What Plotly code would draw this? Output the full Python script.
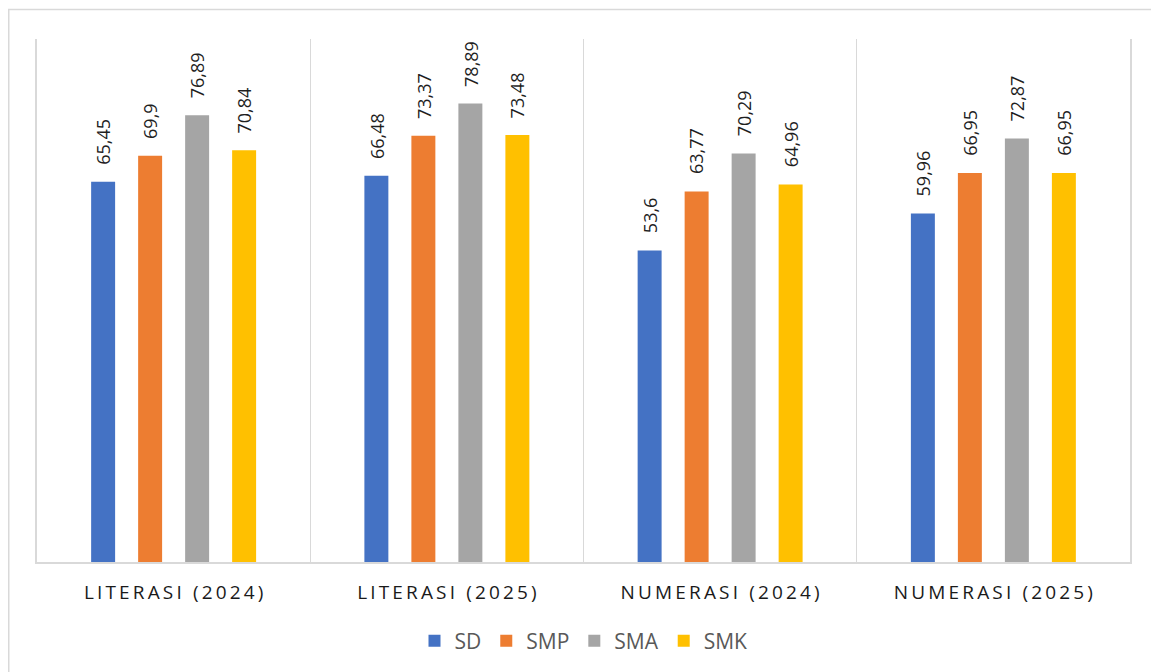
import plotly.graph_objects as go

categories = ["LITERASI (2024)", "LITERASI (2025)", "NUMERASI (2024)", "NUMERASI (2025)"]
series_names = ["SD", "SMP", "SMA", "SMK"]
sd_values = [65.45, 66.48, 53.6, 59.96]
smp_values = [69.9, 73.37, 63.77, 66.95]
sma_values = [76.89, 78.89, 70.29, 72.87]
smk_values = [70.84, 73.48, 64.96, 66.95]
label_sd = ["65,45", "66,48", "53,6", "59,96"]
label_smp = ["69,9", "73,37", "63,77", "66,95"]
label_sma = ["76,89", "78,89", "70,29", "72,87"]
label_smk = ["70,84", "73,48", "64,96", "66,95"]

colors = ["#4472C4", "#ED7D31", "#A5A5A5", "#FFC000"]
values = [sd_values, smp_values, sma_values, smk_values]
labels = [label_sd, label_smp, label_sma, label_smk]

# page body has an 8px margin, so the figure is slightly smaller than the window
W, H = 1151, 664
ML, MR, MT, MB = 29, 29, 31, 109
BARGAP = 0.312
GROUPGAP = 0.49

# spaced tick text (Excel-like character spacing)
ticktext = ["\u2009".join(list(c)) for c in categories]

fig = go.Figure()
for name, vals, col in zip(series_names, values, colors):
    fig.add_trace(go.Bar(x=categories, y=vals, name=name, marker=dict(color=col, line=dict(width=0))))

plot_w = W - ML - MR
plot_h = H - MT - MB
slot_px = plot_w / len(categories) * (1 - BARGAP) / len(series_names)
annotations = []
for i, (vals, labs) in enumerate(zip(values, labels)):
    shift = (i - (len(series_names) - 1) / 2) * slot_px
    for c, v, t in zip(categories, vals, labs):
        annotations.append(dict(
            x=c, y=v, xref="x", yref="y", text=t, showarrow=False,
            textangle=-90, xanchor="center", yanchor="bottom",
            xshift=shift, yshift=15,
            font=dict(family="Open Sans", size=18, color="#1f1f1f"),
        ))

fig.update_layout(
    width=W, height=H,
    margin=dict(l=ML, r=MR, t=MT, b=MB, pad=0),
    paper_bgcolor="white", plot_bgcolor="white",
    barmode="group", bargap=BARGAP, bargroupgap=GROUPGAP,
    showlegend=True,
    legend=dict(orientation="h", x=0.5, xanchor="center", y=-78 / plot_h, yanchor="middle",
                font=dict(family="Open Sans", size=21, color="#595959"),
                itemwidth=30, traceorder="normal"),
    annotations=annotations,
    xaxis=dict(
        type="category", tickmode="array", tickvals=categories, ticktext=ticktext,
        tickson="boundaries", showgrid=True, gridcolor="#D9D9D9", gridwidth=1,
        showline=True, linecolor="#D9D9D9", linewidth=1.5,
        ticks="", ticklabelstandoff=12,
        tickfont=dict(family="Open Sans", size=19, color="#1a1a1a"),
        range=[-0.5, 3.5], fixedrange=True,
    ),
    yaxis=dict(
        range=[0, 90], showgrid=False, zeroline=False, showticklabels=False,
        showline=True, mirror=True, linecolor="#D9D9D9", linewidth=1.5, ticks="",
    ),
    shapes=[dict(type="rect", xref="paper", yref="paper",
                 x0=(0.75 - ML) / plot_w, x1=(W + 10 - ML) / plot_w,
                 y0=(H - MB - (H + 10)) / plot_h, y1=(H - MB - 1.5) / plot_h,
                 line=dict(color="#D9D9D9", width=1.5), fillcolor="rgba(0,0,0,0)", layer="below")],
)

fig.write_html("out.html")
